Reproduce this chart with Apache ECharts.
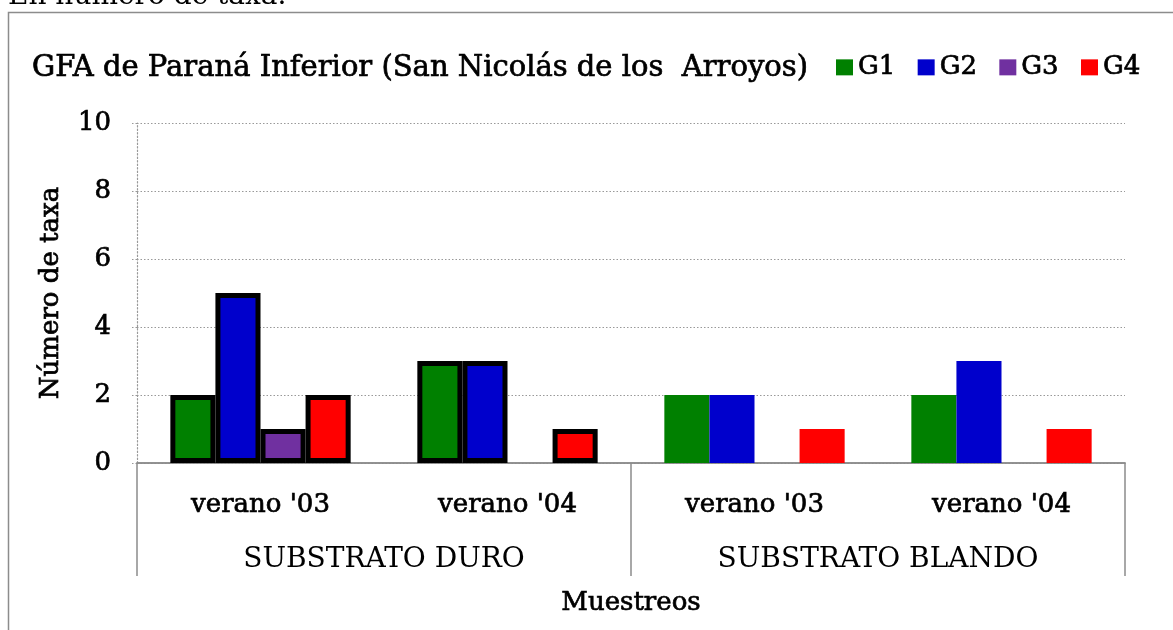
<!DOCTYPE html>
<html>
<head>
<meta charset="utf-8">
<script src="https://cdn.jsdelivr.net/npm/echarts@6/dist/echarts.min.js"></script>
<style>
  html, body { margin: 0; padding: 0; background: #fff; }
  #chart { width: 1173px; height: 630px; }
</style>
</head>
<body>
<div id="chart"></div>
<script>
// Sampling campaigns and the substrate each belongs to
const muestreos = ["verano '03", "verano '04", "verano '03", "verano '04"];
const substratos = ['SUBSTRATO DURO', 'SUBSTRATO BLANDO'];
const grupos = ['G1', 'G2', 'G3', 'G4'];

// Number of taxa per functional group (null = not present)
const g1 = [2, 3, 2, 2];
const g2 = [5, 3, 2, 3];
const g3 = [1, null, null, null];
const g4 = [2, 1, 1, 1];

const yTicks = { min: 0, max: 10, interval: 2 };
const colores = ['#008000', '#0000CC', '#7030A0', '#FF0000'];

const FONT = 'DejaVu Serif';
// a thin outline in the text colour gives the heavier serif look
const heavy = { textBorderColor: '#000', textBorderWidth: 0.7 };
const chart = echarts.init(document.getElementById('chart'));

// Hard-substrate samples (first two) are drawn with a heavy black outline
function buildData(values) {
  return values.map((v, i) => {
    if (v === null) return '-';
    return i < 2
      ? { value: v, itemStyle: { borderColor: '#000', borderWidth: 5 } }
      : { value: v, itemStyle: { borderWidth: 0 } };
  });
}

const seriesValues = [g1, g2, g3, g4];

chart.setOption({
  animation: false,
  textStyle: { fontFamily: FONT, color: '#000' },
  title: {
    text: 'GFA de Paraná Inferior (San Nicolás de los  Arroyos)',
    left: 27,
    top: 49,
    textStyle: Object.assign({ fontFamily: FONT, fontSize: 29, fontWeight: 'normal', color: '#000' }, heavy)
  },
  legend: {
    data: grupos,
    left: 831,
    top: 49,
    icon: 'rect',
    itemWidth: 17,
    itemHeight: 16,
    itemGap: 22,
    textStyle: Object.assign({ fontFamily: FONT, fontSize: 26, color: '#000' }, heavy)
  },
  graphic: [
    {
      type: 'rect',
      shape: { x: 8.5, y: 12.5, width: 1200, height: 700 },
      style: { fill: 'none', stroke: '#8c8c8c', lineWidth: 1.5 },
      silent: true
    },
    {
      type: 'text',
      left: 8,
      top: -17,
      style: { text: 'En número de taxa.', font: '28px "' + FONT + '"', fill: '#000' },
      silent: true
    }
  ],
  grid: { left: 137, right: 48, top: 123, bottom: 167, containLabel: false },
  xAxis: [
    {
      type: 'category',
      data: muestreos,
      position: 'bottom',
      axisLine: { show: true, lineStyle: { color: '#8c8c8c', width: 1.5 } },
      axisTick: { show: false },
      axisLabel: Object.assign({ fontFamily: FONT, fontSize: 26, color: '#000', margin: 29 }, heavy)
    },
    {
      type: 'category',
      data: substratos,
      position: 'bottom',
      name: 'Muestreos',
      nameLocation: 'middle',
      nameGap: 127,
      nameTextStyle: Object.assign({ fontFamily: FONT, fontSize: 26, color: '#000' }, heavy),
      axisLine: { show: true, lineStyle: { color: '#8c8c8c', width: 1.5 } },
      axisTick: { show: true, length: 113, interval: 0, lineStyle: { color: '#8c8c8c', width: 1.5 } },
      axisLabel: { fontFamily: FONT, fontSize: 28, color: '#000', margin: 83 }
    }
  ],
  yAxis: {
    type: 'value',
    min: yTicks.min,
    max: yTicks.max,
    interval: yTicks.interval,
    name: 'Número de taxa',
    nameLocation: 'middle',
    nameGap: 73,
    nameTextStyle: Object.assign({ fontFamily: FONT, fontSize: 26, color: '#000' }, heavy),
    axisLine: { show: true, lineStyle: { color: '#999', type: [1.5, 2], width: 1.2 } },
    axisTick: { show: true, length: 7, lineStyle: { color: '#999', type: [1.5, 2], width: 1.2 } },
    axisLabel: Object.assign({ fontFamily: FONT, fontSize: 26, color: '#000', margin: 26 }, heavy),
    splitLine: { show: true, lineStyle: { color: '#999', type: [1.5, 2], width: 1.2 } }
  },
  series: grupos.map((name, k) => ({
    name: name,
    type: 'bar',
    xAxisIndex: 0,
    barGap: '0%',
    barCategoryGap: '27%',
    itemStyle: { color: colores[k] },
    data: buildData(seriesValues[k])
  }))
});
</script>
</body>
</html>
